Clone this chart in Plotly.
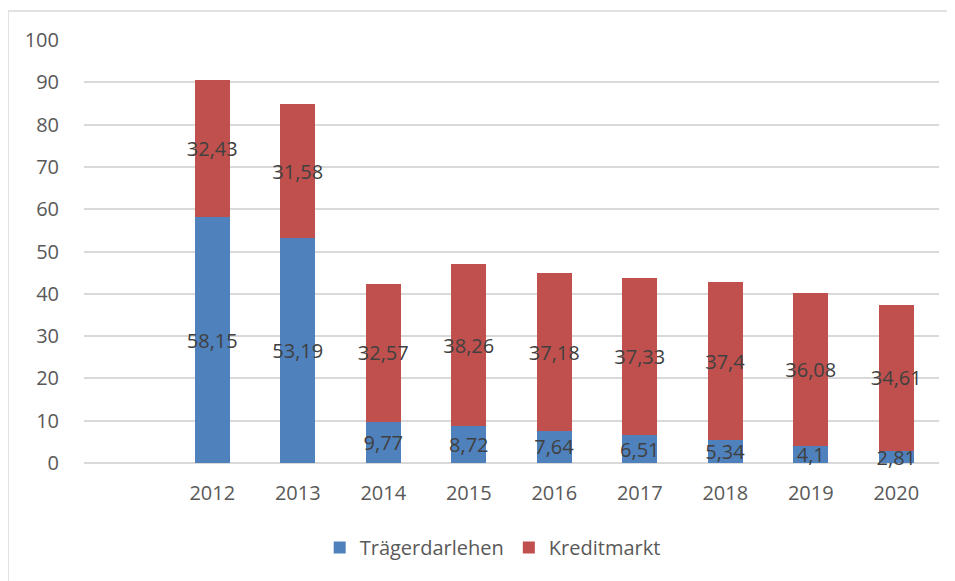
import plotly.graph_objects as go

years = ["2012", "2013", "2014", "2015", "2016", "2017", "2018", "2019", "2020"]
traeger = [58.15, 53.19, 9.77, 8.72, 7.64, 6.51, 5.34, 4.1, 2.81]
kredit = [32.43, 31.58, 32.57, 38.26, 37.18, 37.33, 37.4, 36.08, 34.61]
categories = [" "] + years
y_ticks = [0, 10, 20, 30, 40, 50, 60, 70, 80, 90, 100]

def de(v):
    return str(v).replace(".", ",")

FONT = "Open Sans"
label_font = dict(family=FONT, size=20, color="#404040")

fig = go.Figure()
fig.add_trace(go.Bar(
    x=years, y=traeger, name="Trägerdarlehen",
    marker=dict(color="#4F81BD", line=dict(width=0)),
    text=[de(v) for v in traeger], textposition="inside",
    insidetextanchor="middle", textangle=0, constraintext="none",
    textfont=label_font, insidetextfont=label_font, cliponaxis=False,
))
fig.add_trace(go.Bar(
    x=years, y=kredit, name="Kreditmarkt",
    marker=dict(color="#C0504D", line=dict(width=0)),
    text=[de(v) for v in kredit], textposition="inside",
    insidetextanchor="middle", textangle=0, constraintext="none",
    textfont=label_font, insidetextfont=label_font, cliponaxis=False,
))

fig.update_layout(
    barmode="stack",
    bargap=0.59,
    width=955, height=581,
    margin=dict(l=76, r=24, t=32, b=125.5),
    paper_bgcolor="white", plot_bgcolor="white",
    font=dict(family=FONT, size=20, color="#595959"),
    showlegend=True,
    legend=dict(orientation="h", x=0.478, xanchor="center", y=-0.2, yanchor="middle",
                traceorder="normal",
                font=dict(family=FONT, size=20, color="#595959"), itemwidth=30),
    xaxis=dict(type="category", categoryorder="array", categoryarray=categories,
               range=[-0.5, 9.5], showgrid=False, showline=False, ticks="",
               ticklabelstandoff=16, tickfont=dict(family=FONT, size=20, color="#595959")),
    yaxis=dict(range=[0, 100], tickvals=y_ticks, showgrid=True, gridcolor="#d9d9d9",
               gridwidth=1.5, zeroline=True, zerolinecolor="#d9d9d9", zerolinewidth=1.5,
               showline=False, ticks="", ticklabelstandoff=24,
               tickfont=dict(family=FONT, size=20, color="#595959")),
    shapes=[dict(type="rect", xref="paper", yref="paper",
                 x0=(8 - 84) / 855, x1=(962 - 84) / 855,
                 y0=(463.5 - 600) / 423.5, y1=(463.5 - 11) / 423.5,
                 line=dict(color="#d9d9d9", width=1.5), fillcolor="rgba(0,0,0,0)", layer="below")],
)

fig.write_html("out.html")
